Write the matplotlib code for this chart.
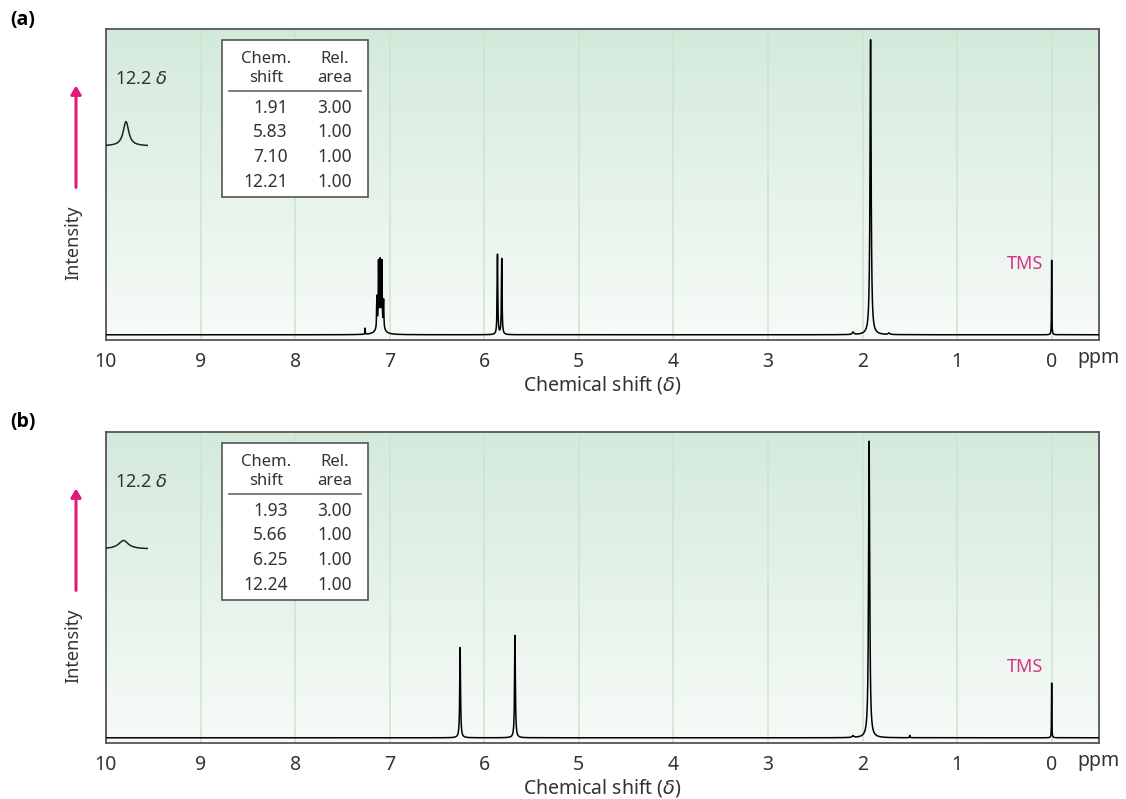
import numpy as np
import matplotlib
matplotlib.use('Agg')
import matplotlib.pyplot as plt
from matplotlib.colors import LinearSegmentedColormap
from matplotlib.patches import Rectangle, FancyArrowPatch

plt.rcParams['font.family'] = ['Noto Sans', 'DejaVu Sans']
plt.rcParams['mathtext.fontset'] = 'dejavusans'

# --- peak lists: position (ppm), height, half-width (ppm) ---
A_POS = [7.135, 7.118, 7.100, 7.082, 7.064, 7.100, 5.860, 5.815, 1.915, 0.0, 7.26, 2.10, 1.72]
A_HT  = [0.10, 0.20, 0.19, 0.20, 0.09, 0.05, 0.262, 0.248, 0.965, 0.245, 0.02, 0.008, 0.005]
A_W   = [0.003, 0.003, 0.003, 0.003, 0.003, 0.03, 0.004, 0.004, 0.007, 0.002, 0.002, 0.01, 0.01]

B_POS = [6.255, 5.675, 1.930, 0.0, 1.50, 2.10]
B_HT  = [0.295, 0.335, 0.970, 0.180, 0.008, 0.006]
B_W   = [0.005, 0.005, 0.007, 0.002, 0.003, 0.01]

# acid proton, drawn as a small inset
A_INSET = (12.21, 1.00, 0.04)
B_INSET = (12.24, 0.35, 0.07)

A_SHIFT = ['1.91', '5.83', '7.10', '12.21']
A_AREA = ['3.00', '1.00', '1.00', '1.00']
B_SHIFT = ['1.93', '5.66', '6.25', '12.24']
B_AREA = ['3.00', '1.00', '1.00', '1.00']

PPM_TICKS = list(range(0, 11))

TXT = '#333333'
SPINE = '#555555'
MAGENTA = '#e0197d'
TMS_COL = '#d63384'
GRID = '#cbe5ce'


def spectrum(x, pos, ht, w):
    y = np.zeros_like(x)
    for p, h, g in zip(pos, ht, w):
        y += h * g**2 / ((x - p)**2 + g**2)
    return y


fig = plt.figure(figsize=(11.26, 7.99), dpi=100)
cmap = LinearSegmentedColormap.from_list('bg', ['#f7fbf8', '#d3eadb'])
grad = np.linspace(0, 1, 256).reshape(-1, 1)

panels = [
    ('(a)', [0.0941, 0.5745, 0.8819, 0.3892], A_POS, A_HT, A_W, A_INSET, A_SHIFT, A_AREA, 0.975),
    ('(b)', [0.0941, 0.0701, 0.8819, 0.3892], B_POS, B_HT, B_W, B_INSET, B_SHIFT, B_AREA, 0.472),
]

x = np.linspace(-0.5, 10.0, 30001)

for tag, rect, pos, ht, w, inset, shifts, areas, tag_y in panels:
    ax = fig.add_axes(rect)
    ax.imshow(grad, extent=[0, 1, 0, 1], transform=ax.transAxes, cmap=cmap,
              aspect='auto', origin='lower', zorder=0)
    for t in PPM_TICKS:
        ax.axvline(t, color=GRID, lw=1.1, zorder=1)
    ax.plot(x, spectrum(x, pos, ht, w), color='black', lw=1.1, zorder=3)
    ax.set_xlim(10.0, -0.5)
    ax.set_ylim(-0.017, 1.0)
    ax.set_xticks(PPM_TICKS)
    ax.set_xticklabels([str(t) for t in PPM_TICKS])
    ax.set_yticks([])
    ax.tick_params(axis='x', length=0, pad=9, labelsize=14, labelcolor=TXT)
    for s in ax.spines.values():
        s.set_color(SPINE)
        s.set_linewidth(1.3)
    ax.set_xlabel('Chemical shift ($\\delta$)', fontsize=14, color=TXT, labelpad=1)

    ax.text(0.09, 0.23, 'TMS', color=TMS_COL, fontsize=13, ha='right', va='center')

    # 12.2 delta inset
    ax.text(0.009, 0.84, '12.2 $\\delta$', transform=ax.transAxes, fontsize=13,
            color=TXT, ha='left', va='center')
    ins = ax.inset_axes([0.0, 0.62, 0.042, 0.09])
    xi = np.linspace(12.45, 11.95, 400)
    ins.plot(xi, spectrum(xi, [inset[0]], [inset[1]], [inset[2]]), color='#222222', lw=1.1)
    ins.set_xlim(12.45, 11.95)
    ins.set_ylim(-0.05, 1.1)
    ins.axis('off')

    # shift / area table
    ax.add_patch(Rectangle((0.117, 0.46), 0.147, 0.505, transform=ax.transAxes,
                           facecolor='white', edgecolor=SPINE, lw=1.2, zorder=5))
    ax.text(0.161, 0.905, 'Chem.', transform=ax.transAxes, ha='center', va='center',
            fontsize=12, color=TXT, zorder=6)
    ax.text(0.161, 0.843, 'shift', transform=ax.transAxes, ha='center', va='center',
            fontsize=12, color=TXT, zorder=6)
    ax.text(0.23, 0.905, 'Rel.', transform=ax.transAxes, ha='center', va='center',
            fontsize=12, color=TXT, zorder=6)
    ax.text(0.23, 0.843, 'area', transform=ax.transAxes, ha='center', va='center',
            fontsize=12, color=TXT, zorder=6)
    ax.plot([0.124, 0.257], [0.802, 0.802], transform=ax.transAxes, color='#666666',
            lw=1.2, zorder=6)
    row_y = [0.747, 0.668, 0.588, 0.508]
    for yy, s, a in zip(row_y, shifts, areas):
        ax.text(0.183, yy, s, transform=ax.transAxes, ha='right', va='center',
                fontsize=12.5, color=TXT, zorder=6)
        ax.text(0.248, yy, a, transform=ax.transAxes, ha='right', va='center',
                fontsize=12.5, color=TXT, zorder=6)

    # panel tag, ppm unit, intensity arrow
    fig.text(0.009, tag_y, tag, fontsize=14, fontweight='bold', family='Open Sans',
             ha='left', va='center')
    bottom = rect[1]
    fig.text(0.957, bottom - 0.023, 'ppm', fontsize=14, color=TXT, ha='left', va='center')
    fig.text(0.065, bottom + 0.1215, 'Intensity', rotation=90, fontsize=13, color=TXT,
             ha='center', va='center')
    fig.patches.append(FancyArrowPatch(
        (0.0675, bottom + 0.1875), (0.0675, bottom + 0.322), transform=fig.transFigure,
        arrowstyle='-|>,head_length=5,head_width=3', color=MAGENTA, lw=2.2))

fig.savefig('out.png', dpi=100)
